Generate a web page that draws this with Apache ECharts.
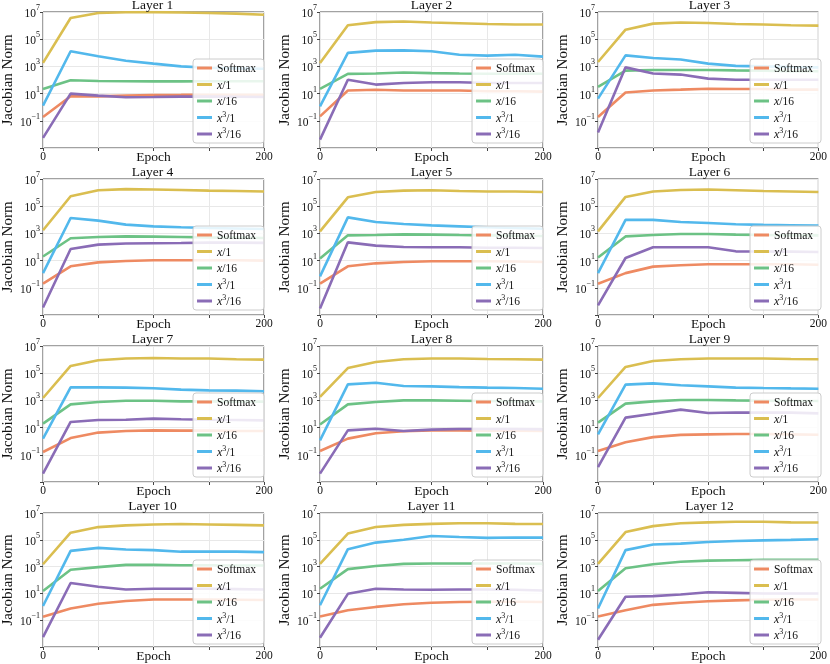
<!DOCTYPE html>
<html><head><meta charset="utf-8">
<script src="https://cdn.jsdelivr.net/npm/echarts@6/dist/echarts.min.js"></script>
<style>html,body{margin:0;padding:0;background:#fff}#c{width:830px;height:664px}</style>
</head><body><div id="c"></div>
<script>
// ---------------- data ----------------
const epochs = [0, 25, 50, 75, 100, 125, 150, 175, 200];
const layerTitles = ['Layer 1','Layer 2','Layer 3','Layer 4','Layer 5','Layer 6','Layer 7','Layer 8','Layer 9','Layer 10','Layer 11','Layer 12'];
const seriesNames = ['Softmax', 'x/1', 'x/16', 'x³/1', 'x³/16'];
const yTickValues = [1e-3, 1e-1, 1e1, 1e3, 1e5, 1e7];

// Jacobian norm per layer (rows = layers 1..12, columns = epochs)
const softmax = [
  [0.19, 6.3, 6.3, 7.1, 7.8, 8.0, 8.3, 8.3, 8.3],
  [0.21, 17, 19, 17, 17, 17, 15, 15, 14],
  [0.19, 12, 17, 19.5, 23, 22, 22, 19.5, 19.5],
  [0.2, 3.8, 7.4, 9.3, 10.5, 10.5, 10.5, 10.5, 10],
  [0.2, 3.8, 6.3, 7.9, 8.9, 8.9, 8.9, 8.5, 7.9],
  [0.2, 1.2, 3.6, 4.5, 5.4, 5.4, 5.4, 5.4, 5.0],
  [0.16, 1.7, 4.3, 5.6, 6.3, 6.0, 6.0, 5.6, 5.6],
  [0.19, 1.55, 3.8, 5.4, 6.3, 6.3, 6.0, 6.0, 5.6],
  [0.19, 0.83, 2.0, 2.9, 3.2, 3.4, 3.4, 3.2, 3.0],
  [0.18, 0.74, 1.7, 2.7, 3.5, 3.5, 3.5, 3.4, 3.2],
  [0.19, 0.56, 0.98, 1.55, 2.0, 2.3, 2.4, 2.4, 2.3],
  [0.19, 0.56, 1.4, 2.0, 2.6, 3.0, 3.4, 3.5, 3.5]
];
const lin1 = [
  [1.8e3, 3.6e6, 8.5e6, 9.6e6, 9.8e6, 9.3e6, 8.5e6, 7.6e6, 6.3e6],
  [1.8e3, 1.05e6, 1.8e6, 2.0e6, 1.7e6, 1.5e6, 1.3e6, 1.2e6, 1.2e6],
  [2.1e3, 5.0e5, 1.4e6, 1.7e6, 1.55e6, 1.3e6, 1.2e6, 1.05e6, 1.0e6],
  [1.7e3, 5.4e5, 1.5e6, 1.8e6, 1.7e6, 1.55e6, 1.4e6, 1.3e6, 1.2e6],
  [1.4e3, 4.5e5, 1.1e6, 1.4e6, 1.5e6, 1.3e6, 1.2e6, 1.2e6, 1.1e6],
  [1.4e3, 4.8e5, 1.2e6, 1.55e6, 1.7e6, 1.5e6, 1.3e6, 1.2e6, 1.1e6],
  [1.5e3, 3.4e5, 8.9e5, 1.2e6, 1.3e6, 1.2e6, 1.2e6, 1.05e6, 1.0e6],
  [1.8e3, 2.4e5, 6.6e5, 1.05e6, 1.2e6, 1.2e6, 1.1e6, 1.05e6, 1.0e6],
  [1.5e3, 2.9e5, 7.9e5, 1.05e6, 1.2e6, 1.2e6, 1.2e6, 1.1e6, 1.05e6],
  [1.5e3, 3.4e5, 8.9e5, 1.2e6, 1.4e6, 1.5e6, 1.4e6, 1.3e6, 1.2e6],
  [1.6e3, 2.9e5, 8.9e5, 1.3e6, 1.55e6, 1.7e6, 1.7e6, 1.55e6, 1.5e6],
  [1.6e3, 3.8e5, 1.05e6, 1.7e6, 2.0e6, 2.2e6, 2.2e6, 2.0e6, 1.95e6]
];
const lin16 = [
  [22, 95, 85, 80, 79, 79, 80, 80, 80],
  [22, 280, 300, 360, 320, 300, 290, 290, 290],
  [31, 490, 550, 550, 550, 510, 490, 440, 440],
  [20, 440, 550, 600, 580, 550, 510, 490, 460],
  [14, 720, 760, 850, 810, 760, 720, 680, 650],
  [17, 600, 760, 910, 910, 810, 760, 720, 720],
  [19.5, 510, 760, 950, 950, 850, 850, 810, 810],
  [17, 510, 760, 1000, 1000, 950, 910, 850, 850],
  [23, 580, 850, 1070, 1070, 1000, 950, 910, 910],
  [15, 580, 910, 1350, 1350, 1260, 1260, 1200, 1200],
  [22, 650, 1100, 1600, 1700, 1700, 1700, 1700, 1600],
  [15, 760, 1500, 2300, 2800, 3000, 3200, 3200, 3200]
];
const cube1 = [
  [1.3, 1.3e4, 5.5e3, 2.6e3, 1.6e3, 1.0e3, 790, 710, 680],
  [1.15, 9.8e3, 1.45e4, 1.5e4, 1.3e4, 7.2e3, 6.2e3, 7.2e3, 5.2e3],
  [4.3, 6.5e3, 4.2e3, 3.2e3, 1.6e3, 1.1e3, 1.0e3, 910, 850],
  [1.2, 1.35e4, 8.7e3, 4.4e3, 3.3e3, 2.8e3, 2.5e3, 2.3e3, 2.1e3],
  [0.69, 1.5e4, 6.9e3, 4.9e3, 3.9e3, 3.3e3, 2.8e3, 2.5e3, 2.2e3],
  [1.2, 1.0e4, 9.8e3, 6.9e3, 5.8e3, 4.7e3, 4.2e3, 4.0e3, 3.7e3],
  [1.55, 9.1e3, 9.1e3, 8.7e3, 7.8e3, 6.2e3, 5.5e3, 5.2e3, 4.7e3],
  [1.15, 1.5e4, 2.0e4, 1.15e4, 1.07e4, 9.5e3, 8.7e3, 8.1e3, 7.2e3],
  [3.2, 1.45e4, 1.8e4, 1.3e4, 1.07e4, 8.7e3, 8.1e3, 7.6e3, 7.2e3],
  [1.15, 1.5e4, 2.5e4, 1.9e4, 1.7e4, 1.3e4, 1.3e4, 1.3e4, 1.2e4],
  [1.3, 2.0e4, 6.2e4, 1.0e5, 1.9e5, 1.6e5, 1.4e5, 1.5e5, 1.45e5],
  [0.74, 1.7e4, 4.5e4, 5.2e4, 6.9e4, 8.1e4, 9.1e4, 9.8e4, 1.1e5]
];
const cube16 = [
  [5.5e-3, 10, 7.1, 5.4, 5.6, 6.0, 6.0, 5.8, 5.6],
  [4.1e-3, 105, 46, 60, 68, 68, 60, 60, 60],
  [1.4e-2, 850, 300, 250, 126, 105, 105, 105, 105],
  [3.6e-3, 71, 150, 180, 190, 195, 210, 210, 200],
  [3.0e-3, 220, 126, 100, 95, 95, 89, 89, 85],
  [5.1e-3, 15.5, 95, 95, 95, 48, 47, 46, 43],
  [4.1e-3, 26, 36, 38, 46, 41, 38, 36, 34],
  [4.1e-3, 6.3, 8.3, 5.6, 7.1, 7.9, 7.9, 7.9, 7.4],
  [1.26e-2, 54, 105, 210, 117, 130, 126, 126, 112],
  [5.5e-3, 60, 31, 19.5, 22, 22, 22, 21, 19.5],
  [4.9e-3, 9.3, 22, 19.5, 18.6, 19.5, 19.5, 18.6, 16.6],
  [3.5e-3, 5.6, 6.3, 8.3, 12.3, 11, 9.8, 9.8, 9.8]
];
const seriesData = [softmax, lin1, lin16, cube1, cube16];

// ---------------- style / layout ----------------
const colors = ['#EE8A62', '#DABE50', '#6CC285', '#52B8EC', '#8A6CB6'];
const FONT = 'Liberation Serif';
const colLeft = [41, 320, 598];
const rowTop = [12, 179, 346, 513];
const W = 223, H = 136;

function legendLabel(name) {
  switch (name) {
    case 'x/1': return '{i|x}{n|/1}';
    case 'x/16': return '{i|x}{n|/16}';
    case 'x³/1': return '{i|x}{s|3}{n|/1}';
    case 'x³/16': return '{i|x}{s|3}{n|/16}';
    default: return '{n|' + name + '}';
  }
}
function yLabel(v) {
  const e = Math.round(Math.log10(v));
  if (e === -3) return '';
  return '{b|10}{s|' + (e < 0 ? '\u2212' + (-e) : e) + '}';
}

const grids = [], xAxes = [], yAxes = [], titles = [], legends = [], series = [];
for (let k = 0; k < 12; k++) {
  const r = Math.floor(k / 3), c = k % 3;
  const left = colLeft[c], top = rowTop[r];
  grids.push({ left: left, top: top, width: W, height: H, show: true, borderColor: '#444', borderWidth: 1, backgroundColor: 'rgba(0,0,0,0)' });
  xAxes.push({
    type: 'value', gridIndex: k, min: 0, max: 200, interval: 50,
    name: 'Epoch', nameLocation: 'middle', nameGap: 2, nameMoveOverlap: false,
    nameTextStyle: { fontFamily: FONT, fontSize: 13.5, color: '#111' },
    axisLine: { show: false },
    axisTick: { show: true, length: 3, lineStyle: { color: '#444' } },
    axisLabel: { margin: 3, fontFamily: FONT, fontSize: 11.5, color: '#111',
      formatter: v => (v === 0 || v === 200) ? String(v) : '' },
    splitLine: { show: true, lineStyle: { color: '#e8e8e8', width: 1 } }
  });
  yAxes.push({
    type: 'log', gridIndex: k, logBase: 10, min: 1e-3, max: 1e7, interval: 2,
    name: 'Jacobian Norm', nameLocation: 'middle', nameGap: 27, nameMoveOverlap: false,
    nameTextStyle: { fontFamily: FONT, fontSize: 15, color: '#111' },
    axisLine: { show: false },
    axisTick: { show: true, length: 3, lineStyle: { color: '#444' } },
    axisLabel: { margin: 3, color: '#111', formatter: yLabel,
      rich: {
        b: { fontFamily: FONT, fontSize: 11.5, color: '#111', lineHeight: 16, verticalAlign: 'bottom' },
        s: { fontFamily: FONT, fontSize: 8, color: '#111', lineHeight: 8, verticalAlign: 'top' }
      } },
    splitLine: { show: true, lineStyle: { color: '#e8e8e8', width: 1 } }
  });
  titles.push({
    text: layerTitles[k], left: left + W / 2, top: top - 14, textAlign: 'center', padding: 0,
    textStyle: { fontFamily: FONT, fontSize: 13.5, fontWeight: 'normal', color: '#111' }
  });
  legends.push({
    data: seriesNames, orient: 'vertical', right: 830 - (left + W), top: top + 47,
    icon: 'rect', itemWidth: 15, itemHeight: 3, itemGap: 2.5,
    padding: [2, 8, 2, 4], backgroundColor: 'rgba(255,255,255,0.85)',
    borderColor: '#cccccc', borderWidth: 1, borderRadius: 3,
    selectedMode: false,
    formatter: legendLabel,
    textStyle: { fontFamily: FONT, fontSize: 11.5, color: '#111', lineHeight: 14,
      rich: {
        n: { fontFamily: FONT, fontSize: 11.5, color: '#111', lineHeight: 14, verticalAlign: 'bottom' },
        i: { fontFamily: FONT, fontSize: 12, fontStyle: 'italic', color: '#111', lineHeight: 14, verticalAlign: 'bottom' },
        s: { fontFamily: FONT, fontSize: 8, color: '#111', lineHeight: 8, verticalAlign: 'top' }
      } }
  });
  for (let s = 0; s < 5; s++) {
    series.push({
      type: 'line', name: seriesNames[s], xAxisIndex: k, yAxisIndex: k,
      showSymbol: false, symbol: 'none', silent: true,
      lineStyle: { color: colors[s], width: 2.6 }, itemStyle: { color: colors[s] },
      data: epochs.map((e, i) => [e, seriesData[s][k][i]])
    });
  }
}

const chart = echarts.init(document.getElementById('c'), null, { renderer: 'canvas' });
chart.setOption({
  backgroundColor: '#ffffff', animation: false,
  title: titles, legend: legends, grid: grids, xAxis: xAxes, yAxis: yAxes, series: series
});
</script></body></html>
